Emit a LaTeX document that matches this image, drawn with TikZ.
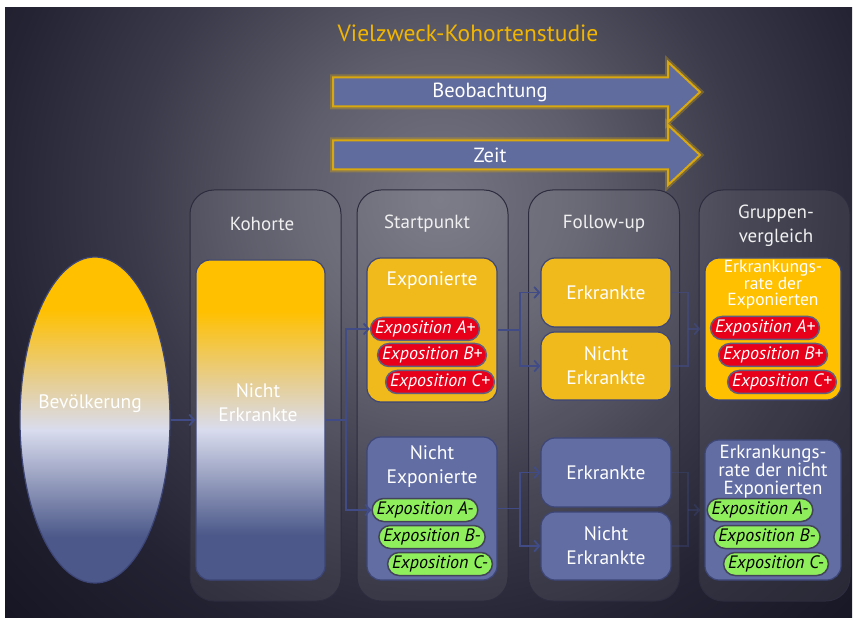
\documentclass[tikz,border=0pt]{standalone}
\usepackage{fontspec}
\setmainfont{PT Sans}
\usetikzlibrary{arrows.meta,shapes.geometric,shapes.misc}

\definecolor{amber}{HTML}{FFC000}
\definecolor{gold}{HTML}{F0B91C}
\definecolor{slate}{HTML}{616DA3}
\definecolor{boxedge}{HTML}{3D4677}
\definecolor{wire}{HTML}{414C86}
\definecolor{lavender}{HTML}{D9DCEE}
\definecolor{sand}{HTML}{E6CE92}
\definecolor{deepslate}{HTML}{4B5889}
\definecolor{alarm}{HTML}{E8001B}
\definecolor{lime}{HTML}{8FEE5C}
\definecolor{ovaledge}{HTML}{5F5F80}
\definecolor{paneledge}{HTML}{2C2C3E}
\definecolor{arrowfill}{HTML}{606C9E}
\definecolor{glow}{HTML}{D9A70E}
\definecolor{bglight}{HTML}{747482}
\definecolor{bgmid}{HTML}{5E5E6C}
\definecolor{bgdeep}{HTML}{3A3A4A}
\definecolor{bgnight}{HTML}{232333}
\definecolor{bgdark}{HTML}{151523}

% the path box covers 25bp..75bp of a shading
\pgfdeclareradialshading{backglow}{\pgfpoint{0bp}{0bp}}{%
  color(0bp)=(bglight); color(4bp)=(bgmid); color(8.5bp)=(bgdeep);
  color(12.5bp)=(bgnight); color(17bp)=(bgdark); color(50bp)=(bgdark)}
\pgfdeclareverticalshading{cohortfade}{100bp}{%
  color(0bp)=(deepslate); color(32bp)=(deepslate); color(48.5bp)=(lavender);
  color(56bp)=(sand); color(67bp)=(amber); color(100bp)=(amber)}

\tikzset{
  title/.style={text=amber!95!black, font=\fontsize{23.5}{26}\selectfont},
  timearrow/.style={fill=arrowfill, draw=glow, line width=2pt,
    preaction={draw=glow, draw opacity=0.35, line width=6pt}},
  arrowtext/.style={text=white, font=\fontsize{20.5}{24}\selectfont},
  panel/.style={draw=paneledge, line width=1pt, fill=white, fill opacity=0.07,
    rounded corners=24pt, minimum width=151, minimum height=411},
  head/.style={text=white!94!black, font=\fontsize{19}{24}\selectfont, align=center},
  lbl/.style={text=white, font=\fontsize{19.5}{24}\selectfont, align=center},
  goldbox/.style={draw=boxedge, line width=1.2pt, fill=gold, rounded corners=14pt,
    minimum width=130, text=white, font=\fontsize{19.5}{24}\selectfont, align=center},
  slatebox/.style={goldbox, fill=slate},
  oval/.style={rounded rectangle, line width=1.5pt, inner xsep=1pt, inner ysep=0pt,
    minimum height=23, font=\fontsize{18}{19}\itshape},
  redoval/.style={oval, fill=alarm, draw=ovaledge, text=white},
  greenoval/.style={oval, fill=lime, draw=ovaledge!70!black, text=black},
  wire/.style={draw=wire, line width=1.8pt},
  conn/.style={wire, -{Straight Barb[length=5pt,width=11pt]}},
}

\begin{document}
\begin{tikzpicture}[x=1pt,y=1pt]
\fill[white] (0,0) rectangle (854,619);
\useasboundingbox (0,0) rectangle (854,619);

% backdrop
\begin{scope}
\clip (5,2) rectangle (852,611);
\shade[shading=backglow] (440,420) circle (900);
\end{scope}

\node[title] (title) at (468,586) {Vielzweck-Kohortenstudie};

% observation and time arrows
\foreach \y/\name/\txt in {527/beob/Beobachtung, 464/zeit/Zeit} {
  \draw[timearrow] (333,\y+14.5) -- (668,\y+14.5) -- (668,\y+30) -- (700,\y)
    -- (668,\y-30) -- (668,\y-14.5) -- (333,\y-14.5) -- cycle;
  \node[arrowtext] (\name) at (490,\y) {\txt};
}

% column panels
\foreach \x/\name in {265.5/kohpanel, 432.5/startpanel, 604/fupanel, 774.5/grpanel}
  \node[panel] (\name) at (\x,223.5) {};

\node[head] (kohhead) at (262,395) {Kohorte};
\node[head] (starthead) at (427,395) {Startpunkt};
\node[head] (fuhead) at (604,395) {Follow-up};
\node[head] (grhead) at (776,393) {Gruppen-\\vergleich};

% population and cohort
\node[ellipse, shade, shading=cohortfade, draw=boxedge, line width=1.2pt,
  minimum width=150, minimum height=326] (pop) at (95,199) {};
\node[lbl] (poplbl) at (90,215) {Bevölkerung};
\node[shade, shading=cohortfade, draw=boxedge, line width=1.2pt, rounded corners=14pt,
  minimum width=129, minimum height=320] (koh) at (260.5,199) {};
\node[lbl] (kohlbl) at (258,216) {Nicht\\Erkrankte};

% starting point
\node[goldbox, minimum height=144] (expo) at (432,289) {};
\node[lbl] (expolbl) at (432,338) {Exponierte};
\node[slatebox, minimum height=143] (nexpo) at (432,110.5) {};
\node[lbl] (nexpolbl) at (432,152) {Nicht\\Exponierte};

\foreach \x/\y/\k in {425/290/A, 432/264/B, 440/237/C}
  \node[redoval] (spos\k) at (\x,\y) {Exposition \k+};
\foreach \x/\y/\k in {425/109/A, 432/82/B, 440/55/C}
  \node[greenoval] (sneg\k) at (\x,\y) {Exposition \k-};

% follow-up
\node[goldbox, minimum height=69] (fu1) at (606,326.5) {Erkrankte};
\node[goldbox, minimum height=68] (fu2) at (606,253) {Nicht\\Erkrankte};
\node[slatebox, minimum height=69] (fu3) at (606,146.5) {Erkrankte};
\node[slatebox, minimum height=68] (fu4) at (606,73) {Nicht\\Erkrankte};

% group comparison
\node[goldbox, fill=amber, minimum width=136, minimum height=142] (gr1) at (773,290) {};
\node[lbl, inner sep=0pt, font=\fontsize{17.5}{16.5}\selectfont] (gr1lbl) at (773,334)
  {Erkrankungs-\\rate der\\Exponierten};
\node[slatebox, minimum width=136, minimum height=140] (gr2) at (773,109) {};
\node[lbl, inner sep=0pt, font=\fontsize{19}{18}\selectfont] (gr2lbl) at (773,147)
  {Erkrankungs-\\rate der nicht\\Exponierten};

\foreach \x/\y/\k in {765/291/A, 773/264/B, 782/237/C}
  \node[redoval] (gpos\k) at (\x,\y) {Exposition \k+};
\foreach \x/\y/\k in {760/109/A, 767/82/B, 776/55/C}
  \node[greenoval] (gneg\k) at (\x,\y) {Exposition \k-};

% connectors
\draw[conn] (pop.east) -- (koh.west);
\draw[wire] (koh.east) -- ++(20,0) coordinate (kfork);
\draw[conn] (kfork) |- (sposA.west);
\draw[conn] (kfork) |- (snegA.west);

\draw[wire] (expo.east) -- ++(22,0) coordinate (efork);
\draw[conn] (efork) |- (fu1.west);
\draw[conn] (efork) |- (fu2.west);
\draw[wire] (nexpo.east) -- ++(22,0) coordinate (nfork);
\draw[conn] (nfork) |- (fu3.west);
\draw[conn] (nfork) |- (fu4.west);

\draw[wire, opacity=0.6] (fu1.east) -- ++(16,0) coordinate (gfork) |- (fu2.east);
\draw[conn, opacity=0.6, shorten >=4pt] (gfork |- gr1.west) -- (gr1.west);
\draw[wire, opacity=0.35] (fu3.east) -- ++(16,0) coordinate (hfork) |- (fu4.east);
\draw[conn, opacity=0.35, shorten >=4pt] (hfork |- gr2.west) -- (gr2.west);
\end{tikzpicture}
\end{document}
